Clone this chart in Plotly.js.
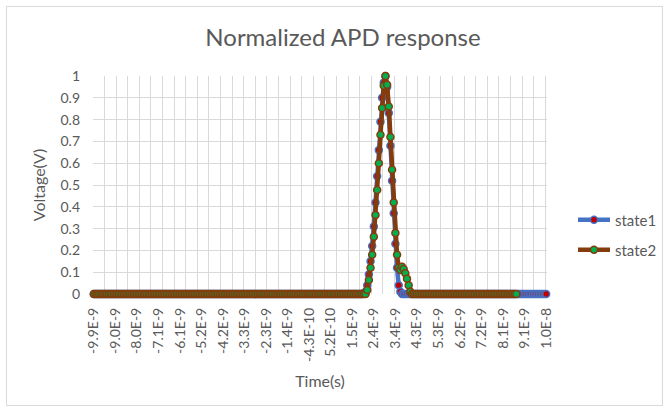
<!DOCTYPE html>
<html>
<head>
<meta charset="utf-8">
<script src="https://cdn.plot.ly/plotly-3.0.1.min.js"></script>
<style>
  html, body { margin: 0; padding: 0; background: #fff; }
  #wrap { position: relative; width: 668px; height: 410px; }
  #chart { position: absolute; left: 0; top: 0; width: 668px; height: 410px; }
  #frame { position: absolute; left: 6px; top: 6px; width: 655px; height: 398px; border: 1px solid #D9D9D9; pointer-events: none; }
</style>
</head>
<body>
<div id="wrap"><div id="chart"></div><div id="frame"></div></div>
<script>
// Tick labels (one every 13 samples of the category axis)
const timeLabels = ['-9.9E-9','-9.0E-9','-8.0E-9','-7.1E-9','-6.1E-9','-5.2E-9','-4.2E-9','-3.3E-9','-2.3E-9','-1.4E-9','-4.3E-10','5.2E-10','1.5E-9','2.4E-9','3.4E-9','4.3E-9','5.3E-9','6.2E-9','7.2E-9','8.1E-9','9.1E-9','1.0E-8'];

// state1: 274 samples
const state1 = [
0,0,0,0,0,0,0,0,0,0,
0,0,0,0,0,0,0,0,0,0,
0,0,0,0,0,0,0,0,0,0,
0,0,0,0,0,0,0,0,0,0,
0,0,0,0,0,0,0,0,0,0,
0,0,0,0,0,0,0,0,0,0,
0,0,0,0,0,0,0,0,0,0,
0,0,0,0,0,0,0,0,0,0,
0,0,0,0,0,0,0,0,0,0,
0,0,0,0,0,0,0,0,0,0,
0,0,0,0,0,0,0,0,0,0,
0,0,0,0,0,0,0,0,0,0,
0,0,0,0,0,0,0,0,0,0,
0,0,0,0,0,0,0,0,0,0,
0,0,0,0,0,0,0,0,0,0,
0,0,0,0,0,0,0,0,0,0,
0,0,0,
0.005,0.01,0.04,0.09,0.15,0.22,0.31,0.42,0.54,0.66,0.79,0.90,0.97,1.0,0.95,0.83,0.68,0.52,0.37,0.23,0.12,0.04,0.01,
0,0,0,0,0,0,0,0,0,0,
0,0,0,0,0,0,0,0,0,0,
0,0,0,0,0,0,0,0,0,0,
0,0,0,0,0,0,0,0,0,0,
0,0,0,0,0,0,0,0,0,0,
0,0,0,0,0,0,0,0,0,0,
0,0,0,0,0,0,0,0,0,0,
0,0,0,0,0,0,0,0,0,0,
0,0,0,0,0,0,0,0
];

// state2: 256 samples
const state2 = [
0,0,0,0,0,0,0,0,0,0,
0,0,0,0,0,0,0,0,0,0,
0,0,0,0,0,0,0,0,0,0,
0,0,0,0,0,0,0,0,0,0,
0,0,0,0,0,0,0,0,0,0,
0,0,0,0,0,0,0,0,0,0,
0,0,0,0,0,0,0,0,0,0,
0,0,0,0,0,0,0,0,0,0,
0,0,0,0,0,0,0,0,0,0,
0,0,0,0,0,0,0,0,0,0,
0,0,0,0,0,0,0,0,0,0,
0,0,0,0,0,0,0,0,0,0,
0,0,0,0,0,0,0,0,0,0,
0,0,0,0,0,0,0,0,0,0,
0,0,0,0,0,0,0,0,0,0,
0,0,0,0,0,0,0,0,0,0,
0,0,0,0,0,
0.018,0.064,0.12,0.18,0.263,0.362,0.477,0.60,0.73,0.853,0.955,1.0,0.96,0.86,0.72,0.57,0.42,0.28,0.18,0.12,0.11,0.125,0.115,0.095,0.07,0.04,0.01,
0,0,0,0,0,0,0,0,0,0,
0,0,0,0,0,0,0,0,0,0,
0,0,0,0,0,0,0,0,0,0,
0,0,0,0,0,0,0,0,0,0,
0,0,0,0,0,0,0,0,0,0,
0,0,0,0,0,0,0,0,0,0,
0,0,0,0
];

const LABEL_STEP = 13;
const GRID_STEP = 7;
const FONT = 'Lato, "Open Sans", sans-serif';
const GREY = '#595959';

const traces = [
  {
    y: state1, x0: 0, dx: 1, type: 'scatter', mode: 'lines+markers', name: 'state1',
    line: { color: '#4472C4', width: 4.5 },
    marker: { size: 7, color: '#C00000', line: { color: '#4472C4', width: 1.5 } },
    cliponaxis: false, legend: 'legend'
  },
  {
    y: state2, x0: 0, dx: 1, type: 'scatter', mode: 'lines+markers', name: 'state2',
    line: { color: '#843C0C', width: 4.5 },
    marker: { size: 7, color: '#00B050', line: { color: '#843C0C', width: 1.5 } },
    cliponaxis: false, legend: 'legend2'
  }
];

const layout = {
  width: 668, height: 410,
  margin: { l: 93, r: 121, t: 76, b: 116, pad: 0, autoexpand: false },
  paper_bgcolor: 'rgba(0,0,0,0)', plot_bgcolor: '#ffffff',
  font: { family: FONT, color: GREY },
  title: {
    text: 'Normalized APD response',
    font: { family: FONT, size: 24, color: GREY },
    xref: 'container', x: 343 / 668, xanchor: 'center',
    yref: 'container', y: 1 - 38 / 410, yanchor: 'middle'
  },
  xaxis: {
    range: [-0.5, state1.length - 0.5],
    tickmode: 'array',
    tickvals: timeLabels.map((_, i) => i * LABEL_STEP),
    ticktext: timeLabels,
    tickangle: -90,
    tickfont: { family: FONT, size: 14, color: GREY },
    ticks: '', ticklabelstandoff: 10,
    showgrid: false, zeroline: false, showline: false,
    minor: { tickmode: 'linear', tick0: -0.5, dtick: GRID_STEP, showgrid: true, gridcolor: '#D9D9D9', gridwidth: 1, ticks: '' },
    title: { text: 'Time(s)', font: { family: FONT, size: 16, color: GREY }, standoff: 14 },
    automargin: false,
    fixedrange: true
  },
  yaxis: {
    range: [0, 1], tick0: 0, dtick: 0.1,
    tickfont: { family: FONT, size: 14, color: GREY },
    ticks: '', ticklabelstandoff: 12,
    showgrid: true, gridcolor: '#D9D9D9', gridwidth: 1,
    zeroline: false, showline: false,
    title: { text: 'Voltage(V)', font: { family: FONT, size: 16, color: GREY }, standoff: 10 },
    automargin: false,
    fixedrange: true
  },
  showlegend: true,
  legend: {
    x: (573 - 93) / 454, xanchor: 'left', y: (294 - 220) / 218, yanchor: 'middle',
    font: { family: FONT, size: 15, color: GREY }, bgcolor: 'rgba(0,0,0,0)', itemwidth: 32
  },
  legend2: {
    x: (573 - 93) / 454, xanchor: 'left', y: (294 - 250) / 218, yanchor: 'middle',
    font: { family: FONT, size: 15, color: GREY }, bgcolor: 'rgba(0,0,0,0)', itemwidth: 32
  }
};

Plotly.newPlot('chart', traces, layout, { staticPlot: true, displayModeBar: false });
</script>
</body>
</html>
